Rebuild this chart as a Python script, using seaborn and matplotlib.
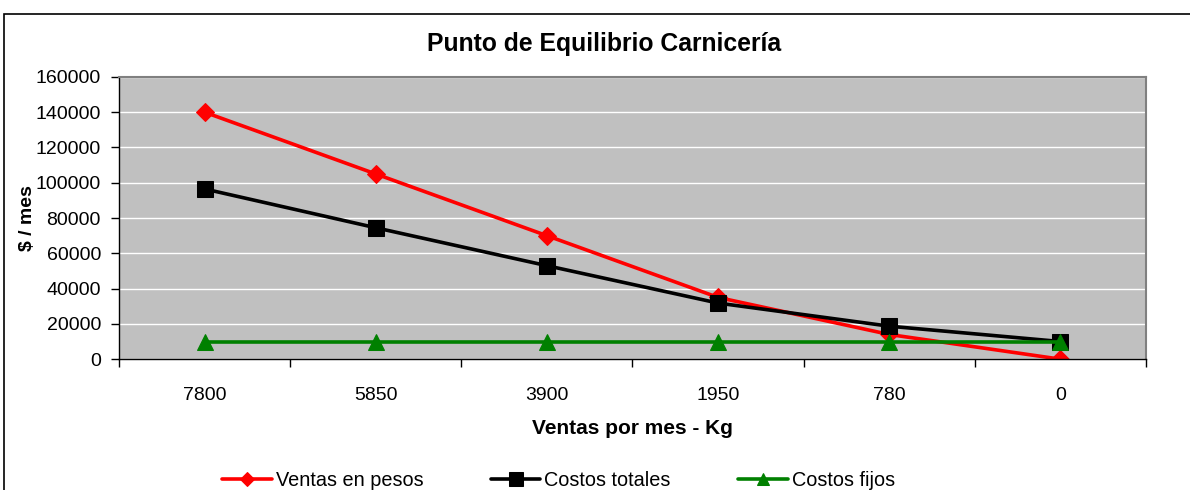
import pandas as pd
import seaborn as sns
import matplotlib.pyplot as plt
from matplotlib.patches import Rectangle

# Data
ventas_kg = ["7800", "5850", "3900", "1950", "780", "0"]
ventas_pesos = [140000, 105000, 70000, 35000, 14000, 0]
costos_totales = [96500, 74500, 53000, 31800, 18700, 10000]
costos_fijos = [10000, 10000, 10000, 10000, 10000, 10000]

series_names = ["Ventas en pesos", "Costos totales", "Costos fijos"]
series_colors = ["#FF0000", "#000000", "#008000"]
series_markers = ["D", "s", "^"]
series_sizes = [9, 12, 11]

df = pd.DataFrame({
    "Kg": ventas_kg * 3,
    "Valor": ventas_pesos + costos_totales + costos_fijos,
    "Serie": [s for s in series_names for _ in ventas_kg],
})

sns.set_theme(style="white")
plt.rcParams["font.family"] = ["Liberation Sans", "DejaVu Sans"]
plt.rcParams["text.color"] = "black"
plt.rcParams["axes.labelcolor"] = "black"
plt.rcParams["xtick.color"] = "black"
plt.rcParams["ytick.color"] = "black"

fig = plt.figure(figsize=(11.9, 4.9), dpi=100)
ax = fig.add_axes([0.1, 0.267, 0.863, 0.576])
ax.set_facecolor("#C0C0C0")

for name, color, mk, ms in zip(series_names, series_colors, series_markers, series_sizes):
    sub = df[df["Serie"] == name]
    sns.lineplot(data=sub, x="Kg", y="Valor", ax=ax, color=color, marker=mk,
                 markersize=ms, markeredgecolor=color, linewidth=2.6,
                 label=name, sort=False)

ax.set_xlim(-0.5, len(ventas_kg) - 0.5)
ax.set_ylim(0, 160000)
ax.set_yticks(range(0, 160001, 20000))
ax.yaxis.grid(True, color="white", linewidth=1)
ax.xaxis.grid(False)

ax.set_xticks(range(len(ventas_kg)))
ax.set_xticklabels(ventas_kg)
ax.set_xticks([i - 0.5 for i in range(len(ventas_kg) + 1)], minor=True)
ax.tick_params(axis="x", which="major", length=0, pad=20, labelsize=14)
ax.tick_params(axis="x", which="minor", length=6, width=1, color="black", direction="out", bottom=True)
ax.tick_params(axis="y", which="major", length=6, width=1, color="black", direction="out",
               left=True, labelsize=14, pad=7)

for side in ["left", "bottom"]:
    ax.spines[side].set_color("black")
    ax.spines[side].set_linewidth(1)
for side in ["top", "right"]:
    ax.spines[side].set_color("#808080")
    ax.spines[side].set_linewidth(1.5)

ax.set_xlabel("Ventas por mes - Kg", fontsize=15, fontweight="bold", labelpad=11)
ax.set_ylabel("$ / mes", fontsize=14, fontweight="bold", labelpad=2)
ax.yaxis.set_label_coords(-0.081, 0.5)
fig.suptitle("Punto de Equilibrio Carnicería", fontsize=17.8, fontweight="bold",
             x=0.508, y=0.935)

ax.legend(loc="center", bbox_to_anchor=(0.428, -0.43), ncol=3, frameon=False,
          fontsize=14.3, handlelength=2.5, columnspacing=3.4, handletextpad=0.2,
          markerscale=0.8)

# outer chart border
fig.patches.append(Rectangle((4 / 1190, -0.1), 1.1, 1 - 14 / 490 + 0.1,
                             transform=fig.transFigure, fill=False,
                             edgecolor="black", linewidth=1.2))

fig.savefig("out.png", dpi=100)
